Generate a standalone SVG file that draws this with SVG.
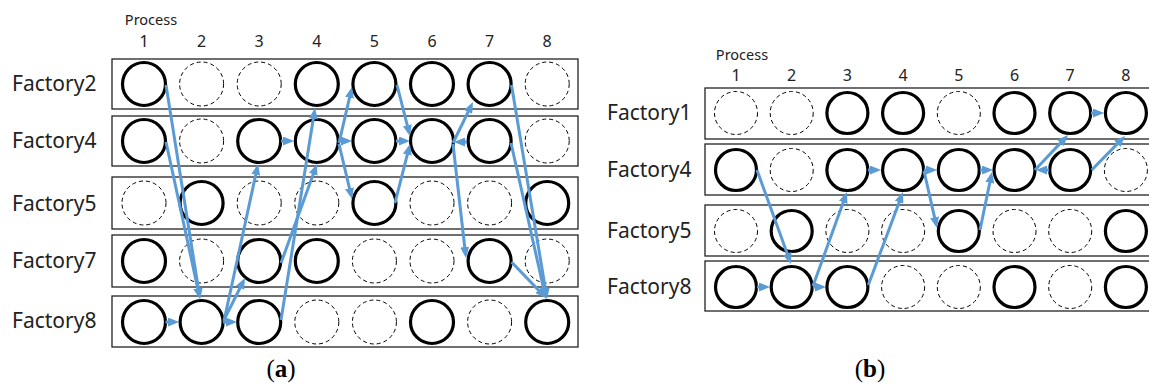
<svg xmlns="http://www.w3.org/2000/svg" width="1149" height="383" viewBox="0 0 1149 383">
  <style>
    .box { fill: #ffffff; stroke: #222222; stroke-width: 1.3; }
    .op { fill: none; stroke: #000000; stroke-width: 3.2; }
    .idle { fill: none; stroke: #000000; stroke-width: 1; stroke-dasharray: 4 3; }
    .lbl { font-family: "Noto Sans", "Open Sans", sans-serif; font-size: 21px; fill: #222222; }
    .hdr { font-family: "Noto Sans", "Open Sans", sans-serif; font-size: 14.5px; fill: #222222; text-anchor: middle; }
    .num { font-family: "Noto Sans", "Open Sans", sans-serif; font-size: 16px; fill: #222222; text-anchor: middle; }
    .cap { font-family: "Liberation Serif", "DejaVu Serif", serif; font-size: 25px; fill: #000000; text-anchor: middle; }
    .flow { stroke: #5B9BD5; stroke-width: 3; fill: none; marker-end: url(#head); }
  </style>
  <defs>
    <marker id="head" markerUnits="userSpaceOnUse" markerWidth="11" markerHeight="9" refX="7" refY="4.5" orient="auto">
      <path d="M0,0 L11,4.5 L0,9 z" fill="#5B9BD5"/>
    </marker>
  </defs>

  <rect width="1149" height="383" fill="#ffffff"/>

  <!-- ===== Panel (a) ===== -->
  <g id="a-header">
    <text class="hdr" x="151" y="25">Process</text>
    <text class="num" x="144" y="47">1</text>
    <text class="num" x="201.6" y="47">2</text>
    <text class="num" x="259.2" y="47">3</text>
    <text class="num" x="316.8" y="47">4</text>
    <text class="num" x="374.4" y="47">5</text>
    <text class="num" x="432" y="47">6</text>
    <text class="num" x="489.6" y="47">7</text>
    <text class="num" x="547.2" y="47">8</text>
  </g>

  <g id="a-factory2">
    <text class="lbl" x="12" y="91">Factory2</text>
    <rect class="box" x="112" y="59" width="466" height="50"/>
    <circle class="op" cx="144" cy="84" r="21.5"/>
    <circle class="idle" cx="201.6" cy="84" r="22"/>
    <circle class="idle" cx="259.2" cy="84" r="22"/>
    <circle class="op" cx="316.8" cy="84" r="21.5"/>
    <circle class="op" cx="374.4" cy="84" r="21.5"/>
    <circle class="op" cx="432" cy="84" r="21.5"/>
    <circle class="op" cx="489.6" cy="84" r="21.5"/>
    <circle class="idle" cx="547.2" cy="84" r="22"/>
  </g>

  <g id="a-factory4">
    <text class="lbl" x="12" y="148">Factory4</text>
    <rect class="box" x="112" y="116" width="466" height="50"/>
    <circle class="op" cx="144" cy="141" r="21.5"/>
    <circle class="idle" cx="201.6" cy="141" r="22"/>
    <circle class="op" cx="259.2" cy="141" r="21.5"/>
    <circle class="op" cx="316.8" cy="141" r="21.5"/>
    <circle class="op" cx="374.4" cy="141" r="21.5"/>
    <circle class="op" cx="432" cy="141" r="21.5"/>
    <circle class="op" cx="489.6" cy="141" r="21.5"/>
    <circle class="idle" cx="547.2" cy="141" r="22"/>
  </g>

  <g id="a-factory5">
    <text class="lbl" x="12" y="211">Factory5</text>
    <rect class="box" x="112" y="177" width="466" height="52"/>
    <circle class="idle" cx="144" cy="203" r="22"/>
    <circle class="op" cx="201.6" cy="203" r="21.5"/>
    <circle class="idle" cx="259.2" cy="203" r="22"/>
    <circle class="idle" cx="316.8" cy="203" r="22"/>
    <circle class="op" cx="374.4" cy="203" r="21.5"/>
    <circle class="idle" cx="432" cy="203" r="22"/>
    <circle class="idle" cx="489.6" cy="203" r="22"/>
    <circle class="op" cx="547.2" cy="203" r="21.5"/>
  </g>

  <g id="a-factory7">
    <text class="lbl" x="12" y="268">Factory7</text>
    <rect class="box" x="112" y="235" width="466" height="52"/>
    <circle class="op" cx="144" cy="261" r="21.5"/>
    <circle class="idle" cx="201.6" cy="261" r="22"/>
    <circle class="op" cx="259.2" cy="261" r="21.5"/>
    <circle class="op" cx="316.8" cy="261" r="21.5"/>
    <circle class="idle" cx="374.4" cy="261" r="22"/>
    <circle class="idle" cx="432" cy="261" r="22"/>
    <circle class="op" cx="489.6" cy="261" r="21.5"/>
    <circle class="idle" cx="547.2" cy="261" r="22"/>
  </g>

  <g id="a-factory8">
    <text class="lbl" x="12" y="328">Factory8</text>
    <rect class="box" x="112" y="296" width="466" height="51"/>
    <circle class="op" cx="144" cy="322" r="21.5"/>
    <circle class="op" cx="201.6" cy="322" r="21.5"/>
    <circle class="op" cx="259.2" cy="322" r="21.5"/>
    <circle class="idle" cx="316.8" cy="322" r="22"/>
    <circle class="idle" cx="374.4" cy="322" r="22"/>
    <circle class="op" cx="432" cy="322" r="21.5"/>
    <circle class="idle" cx="489.6" cy="322" r="22"/>
    <circle class="op" cx="547.2" cy="322" r="21.5"/>
  </g>

  <g id="a-flows">
    <line class="flow" x1="166" y1="85" x2="199.4" y2="295.1"/>
    <line class="flow" x1="166" y1="142" x2="199.2" y2="295.1"/>
    <line class="flow" x1="165.5" y1="322" x2="175" y2="322"/>
    <line class="flow" x1="223" y1="322" x2="233" y2="322"/>
    <line class="flow" x1="224" y1="320" x2="243.2" y2="281.6"/>
    <line class="flow" x1="224" y1="321" x2="257.2" y2="167.9"/>
    <line class="flow" x1="281" y1="141" x2="290" y2="141"/>
    <line class="flow" x1="281" y1="263" x2="315.6" y2="167.7"/>
    <line class="flow" x1="281" y1="320" x2="314.4" y2="112"/>
    <line class="flow" x1="339" y1="143" x2="351.1" y2="90.9"/>
    <line class="flow" x1="339" y1="141" x2="348" y2="141"/>
    <line class="flow" x1="339" y1="144" x2="351.1" y2="195.1"/>
    <line class="flow" x1="397" y1="85" x2="409" y2="132.1"/>
    <line class="flow" x1="396" y1="141" x2="406" y2="141"/>
    <line class="flow" x1="395" y1="203" x2="409" y2="147.9"/>
    <line class="flow" x1="453" y1="143" x2="471.2" y2="105.6"/>
    <line class="flow" x1="467" y1="142" x2="458" y2="142"/>
    <line class="flow" x1="453" y1="144" x2="465.5" y2="254"/>
    <line class="flow" x1="511.5" y1="85" x2="546.4" y2="295"/>
    <line class="flow" x1="511" y1="143" x2="545.1" y2="295.1"/>
    <line class="flow" x1="511.5" y1="262" x2="543.3" y2="295.1"/>
  </g>

  <text class="cap" x="281" y="377">(<tspan font-weight="bold">a</tspan>)</text>

  <!-- ===== Panel (b) ===== -->
  <g id="b-header">
    <text class="hdr" x="742" y="60">Process</text>
    <text class="num" x="736" y="81">1</text>
    <text class="num" x="791.7" y="81">2</text>
    <text class="num" x="847.4" y="81">3</text>
    <text class="num" x="903.1" y="81">4</text>
    <text class="num" x="958.8" y="81">5</text>
    <text class="num" x="1014.5" y="81">6</text>
    <text class="num" x="1070.2" y="81">7</text>
    <text class="num" x="1125.9" y="81">8</text>
  </g>

  <g id="b-factory1">
    <text class="lbl" x="607" y="120">Factory1</text>
    <rect class="box" x="705" y="88" width="450" height="51"/>
    <circle class="idle" cx="736" cy="113" r="21.5"/>
    <circle class="idle" cx="791.7" cy="113" r="21.5"/>
    <circle class="op" cx="847.4" cy="113" r="20.5"/>
    <circle class="op" cx="903.1" cy="113" r="20.5"/>
    <circle class="idle" cx="958.8" cy="113" r="21.5"/>
    <circle class="op" cx="1014.5" cy="113" r="20.5"/>
    <circle class="op" cx="1070.2" cy="113" r="20.5"/>
    <circle class="op" cx="1125.9" cy="113" r="20.5"/>
  </g>

  <g id="b-factory4">
    <text class="lbl" x="607" y="177">Factory4</text>
    <rect class="box" x="705" y="144" width="450" height="51"/>
    <circle class="op" cx="736" cy="170" r="20.5"/>
    <circle class="idle" cx="791.7" cy="170" r="21.5"/>
    <circle class="op" cx="847.4" cy="170" r="20.5"/>
    <circle class="op" cx="903.1" cy="170" r="20.5"/>
    <circle class="op" cx="958.8" cy="170" r="20.5"/>
    <circle class="op" cx="1014.5" cy="170" r="20.5"/>
    <circle class="op" cx="1070.2" cy="170" r="20.5"/>
    <circle class="idle" cx="1125.9" cy="170" r="21.5"/>
  </g>

  <g id="b-factory5">
    <text class="lbl" x="607" y="238">Factory5</text>
    <rect class="box" x="705" y="205" width="450" height="51"/>
    <circle class="idle" cx="736" cy="231" r="21.5"/>
    <circle class="op" cx="791.7" cy="231" r="20.5"/>
    <circle class="idle" cx="847.4" cy="231" r="21.5"/>
    <circle class="idle" cx="903.1" cy="231" r="21.5"/>
    <circle class="op" cx="958.8" cy="231" r="20.5"/>
    <circle class="idle" cx="1014.5" cy="231" r="21.5"/>
    <circle class="idle" cx="1070.2" cy="231" r="21.5"/>
    <circle class="op" cx="1125.9" cy="231" r="20.5"/>
  </g>

  <g id="b-factory8">
    <text class="lbl" x="607" y="294">Factory8</text>
    <rect class="box" x="705" y="261" width="450" height="50"/>
    <circle class="op" cx="736" cy="287" r="20.5"/>
    <circle class="op" cx="791.7" cy="287" r="20.5"/>
    <circle class="op" cx="847.4" cy="287" r="20.5"/>
    <circle class="idle" cx="903.1" cy="287" r="21.5"/>
    <circle class="idle" cx="958.8" cy="287" r="21.5"/>
    <circle class="op" cx="1014.5" cy="287" r="20.5"/>
    <circle class="idle" cx="1070.2" cy="287" r="21.5"/>
    <circle class="op" cx="1125.9" cy="287" r="20.5"/>
  </g>

  <g id="b-flows">
    <line class="flow" x1="757" y1="170" x2="789.6" y2="260.2"/>
    <line class="flow" x1="757" y1="287" x2="766" y2="287"/>
    <line class="flow" x1="813" y1="287" x2="822" y2="287"/>
    <line class="flow" x1="813" y1="286" x2="845.6" y2="195.8"/>
    <line class="flow" x1="868" y1="170" x2="877" y2="170"/>
    <line class="flow" x1="868.3" y1="285" x2="901.6" y2="195.7"/>
    <line class="flow" x1="924" y1="170" x2="933" y2="170"/>
    <line class="flow" x1="924" y1="171" x2="936.1" y2="224.1"/>
    <line class="flow" x1="980" y1="170" x2="989" y2="170"/>
    <line class="flow" x1="980" y1="230" x2="991.2" y2="175.9"/>
    <line class="flow" x1="1035" y1="170" x2="1065.3" y2="137.9"/>
    <line class="flow" x1="1049" y1="170" x2="1040" y2="170"/>
    <line class="flow" x1="1091.7" y1="170" x2="1122.2" y2="138.9"/>
    <line class="flow" x1="1091" y1="113" x2="1100" y2="113"/>
  </g>

  <text class="cap" x="870" y="377">(<tspan font-weight="bold">b</tspan>)</text>
</svg>
